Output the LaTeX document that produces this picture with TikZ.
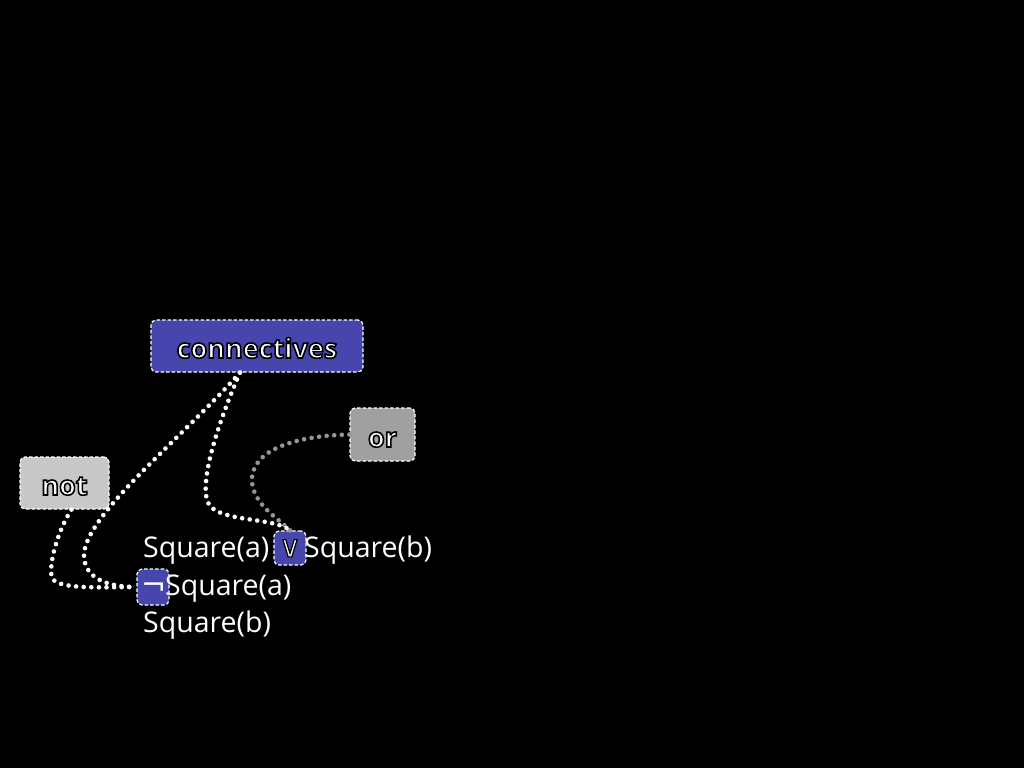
\documentclass[tikz,border=0pt]{standalone}
\usepackage{fontspec}
\setmainfont{Open Sans}
\newfontfamily\symfont{DejaVu Sans}
\newcommand\glowtext[2]{\special{pdf:literal direct 2 Tr #1 w 0 0 0 RG}#2\special{pdf:literal direct 0 Tr}}
\definecolor{boxblue}{RGB}{70,70,172}
\definecolor{orgray}{RGB}{160,160,160}
\definecolor{notgray}{RGB}{200,200,200}
\definecolor{dotgray}{RGB}{150,150,150}
\tikzset{
  tagbox/.style={draw=white, line width=1.2pt, dash pattern=on 3.5pt off 2pt, rounded corners=5pt, inner sep=0pt},
  plain/.style={inner sep=0pt, text=white, font=\fontsize{28.5}{32}\selectfont, anchor=base west},
  boxlabel/.style={inner sep=0pt, text=white, font=\bfseries\fontsize{27}{32}\selectfont, anchor=base},
  wdot/.style={draw=white, line width=4.6pt, dash pattern=on 0pt off 7.6pt, line cap=round},
  gdot/.style={wdot, draw=dotgray},
}
\begin{document}
\begin{tikzpicture}[x=1pt,y=-1pt]
\fill[black] (0,0) rectangle (1024,768);
\useasboundingbox (0,0) rectangle (1024,768);
% boxes
\node[tagbox, fill=boxblue, minimum width=212, minimum height=52] (conn) at (257,346) {};
\node[tagbox, fill=orgray, minimum width=65, minimum height=53] (orb) at (382.5,434.5) {};
\node[tagbox, fill=notgray, minimum width=89, minimum height=52] (notb) at (64.5,483) {};
\node[tagbox, fill=boxblue, minimum width=32, minimum height=34] (vee) at (290,548) {};
\node[tagbox, fill=boxblue, minimum width=32, minimum height=36] (neg) at (153,587) {};
% box labels
\node[boxlabel] (connl) at (257,358) {\glowtext{1.6}{connectives}};
\node[boxlabel] (orl) at (382.5,447) {\glowtext{1.6}{or}};
\node[boxlabel] (notl) at (64.5,495) {\glowtext{1.6}{not}};
% text
\node[plain] (l1a) at (143,557) {Square(a)};
\node[plain, anchor=base, font=\symfont\fontsize{30}{32}\selectfont] (veesym) at (290,557) {\glowtext{1.2}{∨}};
\node[plain] (l1b) at (304,557) {Square(b)};
\node[plain, font=\symfont\fontsize{30}{32}\selectfont] (negsym) at (141,595) {¬};
\node[plain] (l2) at (165,595) {Square(a)};
\node[plain] (l3) at (143,632) {Square(b)};
% connectors
\draw[gdot] (orb.west) .. controls (290,436) and (250,452) .. (252,482) .. controls (254,505) and (278,518) .. (vee.north);
\draw[wdot] ([xshift=-17pt]conn.south) .. controls (215,430) and (195,495) .. (212,508) .. controls (230,522) and (275,518) .. (vee.north);
\draw[wdot] ([xshift=-17pt]conn.south) .. controls (180,440) and (85,515) .. (84,555) .. controls (84,582) and (115,587) .. (neg.west);
\draw[wdot] ([xshift=7pt]notb.south) .. controls (58,530) and (48,565) .. (52,578) .. controls (58,590) and (105,587) .. (neg.west);
\end{tikzpicture}
\end{document}
